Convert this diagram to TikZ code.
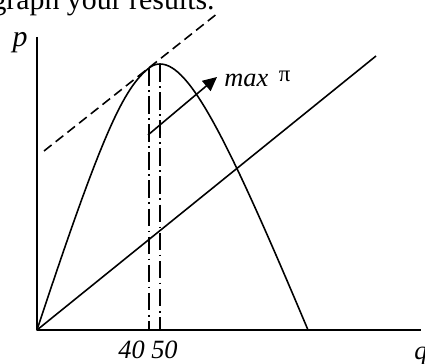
\documentclass[tikz,border=0pt]{standalone}
\usepackage{fontspec}
\setmainfont{Liberation Serif}
\usetikzlibrary{arrows.meta}

\begin{document}
\begin{tikzpicture}[x=0.02cm, y=-0.02cm, line join=round, line cap=butt]
          \tikzset{
            axis/.style={line width=1.1pt},
            curve/.style={line width=0.9pt},
            tangent/.style={line width=0.9pt, dash pattern=on 5.5pt off 3pt},
            guide/.style={line width=0.8pt, dash pattern=on 10pt off 2.5pt on 1pt off 2.5pt},
            lbl/.style={font=\fontsize{15}{17}\selectfont\itshape, inner sep=0pt}
          }
          \useasboundingbox (0,0) rectangle (425,364);

          \coordinate (O) at (37, 330);
          \coordinate (Ytop) at (37, 37);
          \coordinate (Xend) at (421, 330);
          \coordinate (T) at (149, 68);
          \coordinate (Pk) at (160, 64);
          \coordinate (Zr) at (308, 330);
          \coordinate (Ctop) at (376, 56);
          \coordinate (Dlo) at (44, 151);
          \coordinate (Dhi) at (218, 13);
          \coordinate (Atail) at (148, 135);
          \coordinate (Ahead) at (217, 77);

          \node[anchor=base east, inner sep=0pt, font=\fontsize{17}{20}\selectfont] (head) at (215, 10) {graph your results.};

          \draw[axis] (Ytop) -- (O) -- (Xend);
          \node[lbl, font=\fontsize{17}{19}\selectfont\itshape] (plab) at (20, 43) {p};
          \node[lbl, anchor=base west] (qlab) at (414, 359) {q};
          \node[lbl, anchor=base] (ticks) at (148, 358) {40 50};

          % revenue curve
          \draw[curve] (O) .. controls (103,130) and (124,88) .. (T)
                           .. controls (152.7,65.1) and (156.3,64) .. (Pk)
                           .. controls (190,64) and (228,140) .. (Zr);
          % cost line
          \draw[curve] (O) -- (Ctop);
          \draw[tangent] (Dlo) -- (Dhi);

          \draw[guide] (T) -- (T |- O);
          \draw[guide] (Pk) -- (Pk |- O);

          \draw[curve, -{Triangle[length=8pt, width=7.5pt]}] (Atail) -- (Ahead);
          \node[lbl, anchor=base west] (maxlab) at (224, 87) {max\hspace{6pt}\raisebox{3pt}{\fontsize{13}{14}\selectfont\upshape π}};
        \end{tikzpicture}
\end{document}
